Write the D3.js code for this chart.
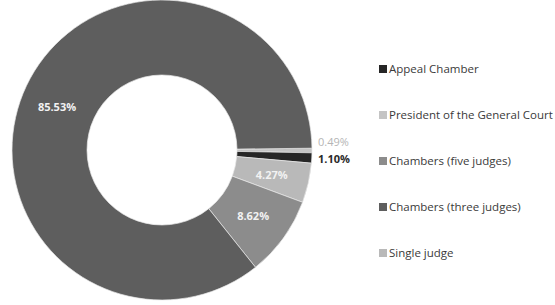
<!DOCTYPE html>
<html>
<head>
<meta charset="utf-8">
<title>Donut</title>
<script src="https://d3js.org/d3.v7.min.js"></script>
<style>
  body { margin: 0; background: #fff; }
  text { font-family: "Open Sans", sans-serif; }
</style>
</head>
<body>
<svg id="chart" width="555" height="305"></svg>
<script>
// legend order
var categories = ["Appeal Chamber", "President of the General Court", "Chambers (five judges)", "Chambers (three judges)", "Single judge"]
var values = [1.10, 0.49, 8.62, 85.53, 4.27]
var colors = ["#262626", "#c4c4c4", "#8c8c8c", "#5e5e5e", "#b9b9b9"]
// order of slices clockwise from 3 o'clock
var drawOrder = ["President of the General Court", "Appeal Chamber", "Single judge", "Chambers (five judges)", "Chambers (three judges)"]

var svg = d3.select("#chart")
var cx = 162, cy = 150, outer = 150, inner = 75

var color = d3.scaleOrdinal().domain(categories).range(colors)

var rows = drawOrder.map(function(c) { return {key: c, value: values[categories.indexOf(c)]} })

var start = Math.PI / 2 - 0.012
var pie = d3.pie()
  .sort(null)
  .value(function(d) { return d.value })
  .startAngle(start)
  .endAngle(start + 2 * Math.PI)
var arcs = pie(rows)

var arc = d3.arc().innerRadius(inner).outerRadius(outer)

var g = svg.append("g").attr("transform", "translate(" + cx + "," + cy + ")")

g.selectAll("path")
  .data(arcs)
  .enter()
  .append("path")
    .attr("d", arc)
    .attr("fill", function(d) { return color(d.data.key) })
    .attr("stroke", "#e8e8e8")
    .attr("stroke-width", 0.7)

// labels inside the big slices
var fmt = function(v) { return v.toFixed(2) + "%" }
g.selectAll("text.inside")
  .data(arcs.filter(function(d) { return d.data.value > 3 }))
  .enter()
  .append("text")
    .attr("class", "inside")
    .attr("transform", function(d) {
      if (d.data.value > 50) return "translate(-105,-43)"
      var c = arc.centroid(d)
      return "translate(" + c + ")"
    })
    .attr("text-anchor", "middle")
    .attr("dy", "0.35em")
    .attr("fill", "#f2f2f2")
    .style("font-size", "11px")
    .style("font-weight", "bold")
    .text(function(d) { return fmt(d.data.value) })

// outside labels for the thin slices
var small = arcs.filter(function(d) { return d.data.value < 3 })
g.selectAll("text.outside")
  .data(small)
  .enter()
  .append("text")
    .attr("class", "outside")
    .attr("x", outer + 6)
    .attr("y", function(d, i) { return i === 0 ? -8 : 9 })
    .attr("dy", "0.35em")
    .attr("fill", function(d, i) { return i === 0 ? "#b5b5b5" : "#2a2a2a" })
    .style("font-size", "11px")
    .style("font-weight", function(d, i) { return i === 0 ? "normal" : "bold" })
    .text(function(d) { return fmt(d.data.value) })

// legend
var legend = svg.append("g").attr("transform", "translate(379,69)")
var item = legend.selectAll("g")
  .data(categories)
  .enter()
  .append("g")
    .attr("transform", function(d, i) { return "translate(0," + (i * 46) + ")" })
item.append("rect")
  .attr("x", 0).attr("y", -4)
  .attr("width", 8).attr("height", 8)
  .attr("fill", function(d) { return color(d) })
item.append("text")
  .attr("x", 10)
  .attr("dy", "0.35em")
  .attr("fill", "#3a3a3a")
  .style("font-size", "11.5px")
  .text(function(d) { return d })
</script>
</body>
</html>
